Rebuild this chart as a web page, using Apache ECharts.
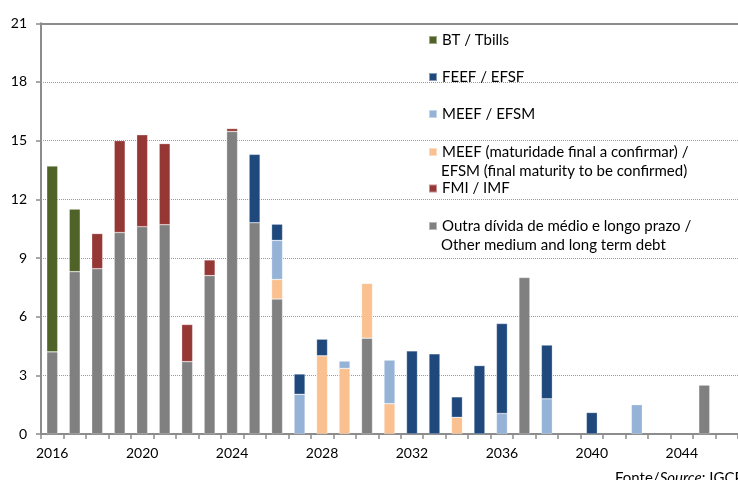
<!DOCTYPE html>
<html><head><meta charset="utf-8">
<script src="https://cdn.jsdelivr.net/npm/echarts@6/dist/echarts.min.js"></script>
<style>html,body{margin:0;padding:0;background:#fff}#c{width:738px;height:480px}</style>
</head><body><div id="c"></div>
<script>
const years = ['2016','2017','2018','2019','2020','2021','2022','2023','2024','2025','2026','2027','2028','2029','2030','2031','2032','2033','2034','2035','2036','2037','2038','2039','2040','2041','2042','2043','2044','2045','2046'];
const yTicks = [0,3,6,9,12,15,18,21];
const seriesNames = ['Outra dívida de médio e longo prazo /\nOther medium and long term debt','MEEF (maturidade final a confirmar) /\nEFSM (final maturity to be confirmed)','MEEF / EFSM','FEEF / EFSF','FMI / IMF','BT / Tbills'];
const outra    = [4.2,8.3,8.45,10.3,10.6,10.7,3.7,8.1,15.47,10.8,6.9,null,null,null,4.9,null,null,null,null,null,null,8.0,null,null,null,null,null,null,null,2.5,null];
const meefConf = [null,null,null,null,null,null,null,null,null,null,1.0,null,4.0,3.35,2.8,1.55,null,null,0.85,null,null,null,null,null,null,null,null,null,null,null,null];
const meef     = [null,null,null,null,null,null,null,null,null,null,2.0,2.03,null,0.38,null,2.23,null,null,null,null,1.05,null,1.8,null,null,null,1.5,null,null,null,null];
const feef     = [null,null,null,null,null,null,null,null,null,3.5,0.83,1.04,0.85,null,null,null,4.25,4.1,1.05,3.5,4.6,null,2.75,null,1.1,null,null,null,null,null,null];
const fmi      = [null,null,1.8,4.7,4.7,4.15,1.9,0.8,0.15,null,null,null,null,null,null,null,null,null,null,null,null,null,null,null,null,null,null,null,null,null,null];
const bt       = [9.5,3.2,null,null,null,null,null,null,null,null,null,null,null,null,null,null,null,null,null,null,null,null,null,null,null,null,null,null,null,null,null];
const values = [outra, meefConf, meef, feef, fmi, bt];
const colors = ['#808080','#FAC090','#95B3D7','#1F497D','#953735','#4F6228'];

const FONT = 'Lato';
const LFS = 15;
const axisGray = '#8c8c8c';
const legendOrder = [5,3,2,1,4,0];
const legendCenters = [40,77,114,152,188.5,226];

const secondLines = [];
legendOrder.forEach((si,k)=>{
  const parts = seriesNames[si].split('\n');
  if (parts.length>1) secondLines.push({
    type:'text', x:441, y:legendCenters[k]+19, silent:true,
    style:{text:parts[1], font:LFS+'px '+FONT, fill:'#000', verticalAlign:'middle', align:'left'}
  });
});

const chart = echarts.init(document.getElementById('c'), null, {renderer:'canvas'});
chart.setOption({
  animation:false,
  textStyle:{fontFamily:FONT},
  grid:{left:41, top:23.3, right:-3.3, bottom:46, containLabel:false},
  title:{
    left:615, top:471, padding:0,
    text:'{a|Fonte/}{b|Source}{a|: IGCP}',
    textStyle:{fontWeight:'normal',rich:{a:{fontFamily:FONT,fontSize:15,fontWeight:'normal',color:'#000'},b:{fontFamily:FONT,fontSize:15,fontWeight:'normal',fontStyle:'italic',color:'#000'}}}
  },
  graphic: secondLines,
  legend: legendOrder.map((si,k)=>({
    data:[seriesNames[si]],
    formatter:(name)=>name.split('\n')[0],
    left:428, top:legendCenters[k]-9.5,
    orient:'vertical',
    itemWidth:8, itemHeight:8, itemGap:0, padding:0,
    icon:'rect', selectedMode:false,
    textStyle:{fontFamily:FONT,fontSize:LFS,color:'#000',lineHeight:19}
  })),
  xAxis:[{
    type:'category', data:years, boundaryGap:true,
    axisLine:{lineStyle:{color:axisGray,width:2}},
    axisTick:{show:true,interval:0,length:5,lineStyle:{color:axisGray,width:1.5}},
    axisLabel:{interval:3,margin:12,fontSize:14,color:'#000',fontFamily:FONT},
    splitLine:{show:false}
  },{
    type:'category', data:years, position:'top',
    axisLine:{lineStyle:{color:axisGray,width:2}},
    axisTick:{show:false}, axisLabel:{show:false}
  }],
  yAxis:{
    type:'value', min:yTicks[0], max:yTicks[yTicks.length-1], interval:3,
    axisLine:{show:true,lineStyle:{color:axisGray,width:2}},
    axisTick:{show:true,length:5,lineStyle:{color:axisGray,width:1.5}},
    axisLabel:{margin:14,fontSize:14,color:'#000',fontFamily:FONT},
    splitLine:{show:true,lineStyle:{color:'#9a9a9a',width:1,type:[1,1]}}
  },
  series: seriesNames.map((n,i)=>({
    name:n, type:'bar', stack:'total', data:values[i],
    barWidth:11,
    itemStyle:{color:colors[i],borderColor:'rgba(255,255,255,0.45)',borderWidth:0.6},
    emphasis:{disabled:true}
  }))
});
</script></body></html>
